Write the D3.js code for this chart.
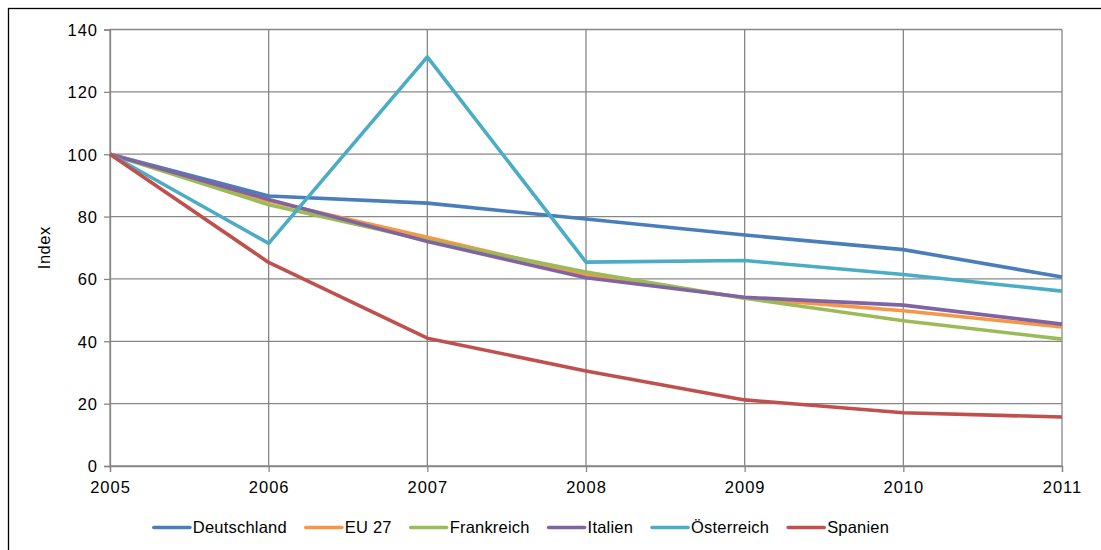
<!DOCTYPE html>
<html>
<head>
<meta charset="utf-8">
<script src="https://cdn.jsdelivr.net/npm/d3@7"></script>
<style>
  html, body { margin: 0; padding: 0; background: #fff; }
  svg { display: block; }
  text { font-family: "Liberation Sans", Arial, sans-serif; fill: #000; }
</style>
</head>
<body>
<svg id="chart" width="1101" height="550"></svg>
<script>
// Index values (2005 = 100)
const years = [2005, 2006, 2007, 2008, 2009, 2010, 2011];
const seriesNames = ["Deutschland", "EU 27", "Frankreich", "Italien", "Österreich", "Spanien"];
const deutschland = [100, 86.6, 84.3, 79.2, 74.1, 69.4, 60.6];
const eu27        = [100, 85.0, 73.4, 61.4, 53.9, 49.8, 44.6];
const frankreich  = [100, 83.8, 72.4, 62.2, 53.8, 46.6, 40.7];
const italien     = [100, 85.5, 72.0, 60.4, 54.1, 51.6, 45.5];
const oesterreich = [100, 71.4, 131.2, 65.4, 65.9, 61.4, 56.1];
const spanien     = [100, 65.3, 41.0, 30.5, 21.2, 17.1, 15.7];
const yTicks = [0, 20, 40, 60, 80, 100, 120, 140];
const yTitle = "Index";

const seriesValues = [deutschland, eu27, frankreich, italien, oesterreich, spanien];
const colors = ["#4A7EBB", "#F79646", "#9BBB59", "#8064A2", "#4BACC6", "#C0504D"];

const svg = d3.select("#chart");
const plot = { left: 110, right: 1062, top: 29.5, bottom: 466 };

// Outer frame
svg.append("rect")
  .attr("x", 8.5).attr("y", 8.5)
  .attr("width", 1200).attr("height", 700)
  .attr("fill", "none").attr("stroke", "#000").attr("stroke-width", 1.3);

const x = d3.scaleLinear().domain([years[0], years[years.length - 1]]).range([plot.left, plot.right]);
const y = d3.scaleLinear().domain([0, 140]).range([plot.bottom, plot.top]);

const gridColor = "#878787";

// Horizontal gridlines
svg.append("g").selectAll("line").data(yTicks).join("line")
  .attr("x1", plot.left).attr("x2", plot.right)
  .attr("y1", d => y(d)).attr("y2", d => y(d))
  .attr("stroke", gridColor).attr("stroke-width", 1.3);

// Vertical gridlines
svg.append("g").selectAll("line").data(years).join("line")
  .attr("x1", d => x(d)).attr("x2", d => x(d))
  .attr("y1", plot.top).attr("y2", plot.bottom)
  .attr("stroke", gridColor).attr("stroke-width", 1.3);

// Axes
const yAxis = svg.append("g")
  .attr("transform", `translate(${plot.left},0)`)
  .call(d3.axisLeft(y).tickValues(yTicks).tickSize(6).tickPadding(11).tickFormat(d3.format("d")));
const xAxis = svg.append("g")
  .attr("transform", `translate(0,${plot.bottom})`)
  .call(d3.axisBottom(x).tickValues(years).tickSize(6).tickPadding(6).tickFormat(d3.format("d")));

[yAxis, xAxis].forEach(g => {
  g.select(".domain").attr("stroke", gridColor).attr("stroke-width", 1.3);
  g.selectAll(".tick line").attr("stroke", gridColor).attr("stroke-width", 1.3);
  g.selectAll(".tick text")
    .attr("fill", "#000")
    .style("font-family", "'Liberation Sans', Arial, sans-serif")
    .style("font-size", "16.5px")
    .style("letter-spacing", "1px");
});
yAxis.selectAll(".tick text").attr("dy", "0.36em").attr("x", -12);
xAxis.selectAll(".tick text").attr("dy", "0.9em");

// Y axis title
svg.append("text")
  .attr("transform", `translate(50,${(plot.top + plot.bottom) / 2}) rotate(-90)`)
  .attr("text-anchor", "middle")
  .style("font-size", "16.5px")
  .style("letter-spacing", "0.5px")
  .text(yTitle);

// Series lines
const line = d3.line().x((d, i) => x(years[i])).y(d => y(d));
svg.append("g").selectAll("path").data(seriesValues).join("path")
  .attr("d", d => line(d))
  .attr("fill", "none")
  .attr("stroke", (d, i) => colors[i])
  .attr("stroke-width", 3.6)
  .attr("stroke-linejoin", "round")
  .attr("stroke-linecap", "butt");

// Legend
const legendY = 527.5;
const swatch = 36, swatchGap = 3, itemGap = 19;
const legend = svg.append("g");
const items = legend.selectAll("g").data(seriesNames).join("g");
items.append("line")
  .attr("x1", 0).attr("x2", swatch)
  .attr("y1", 0).attr("y2", 0)
  .attr("stroke", (d, i) => colors[i])
  .attr("stroke-width", 3.6)
  .attr("stroke-linecap", "round");
items.append("text")
  .attr("x", swatch + swatchGap)
  .attr("dy", "0.36em")
  .style("font-size", "16.5px")
  .style("letter-spacing", "0.2px")
  .text(d => d);
let cursor = 0;
items.each(function () {
  const w = swatch + swatchGap + d3.select(this).select("text").node().getComputedTextLength();
  d3.select(this).attr("data-x", cursor);
  cursor += w + itemGap;
});
const total = cursor - itemGap;
const legendStart = 521.5 - total / 2;
items.attr("transform", function () {
  return `translate(${legendStart + (+d3.select(this).attr("data-x"))},${legendY})`;
});
</script>
</body>
</html>
